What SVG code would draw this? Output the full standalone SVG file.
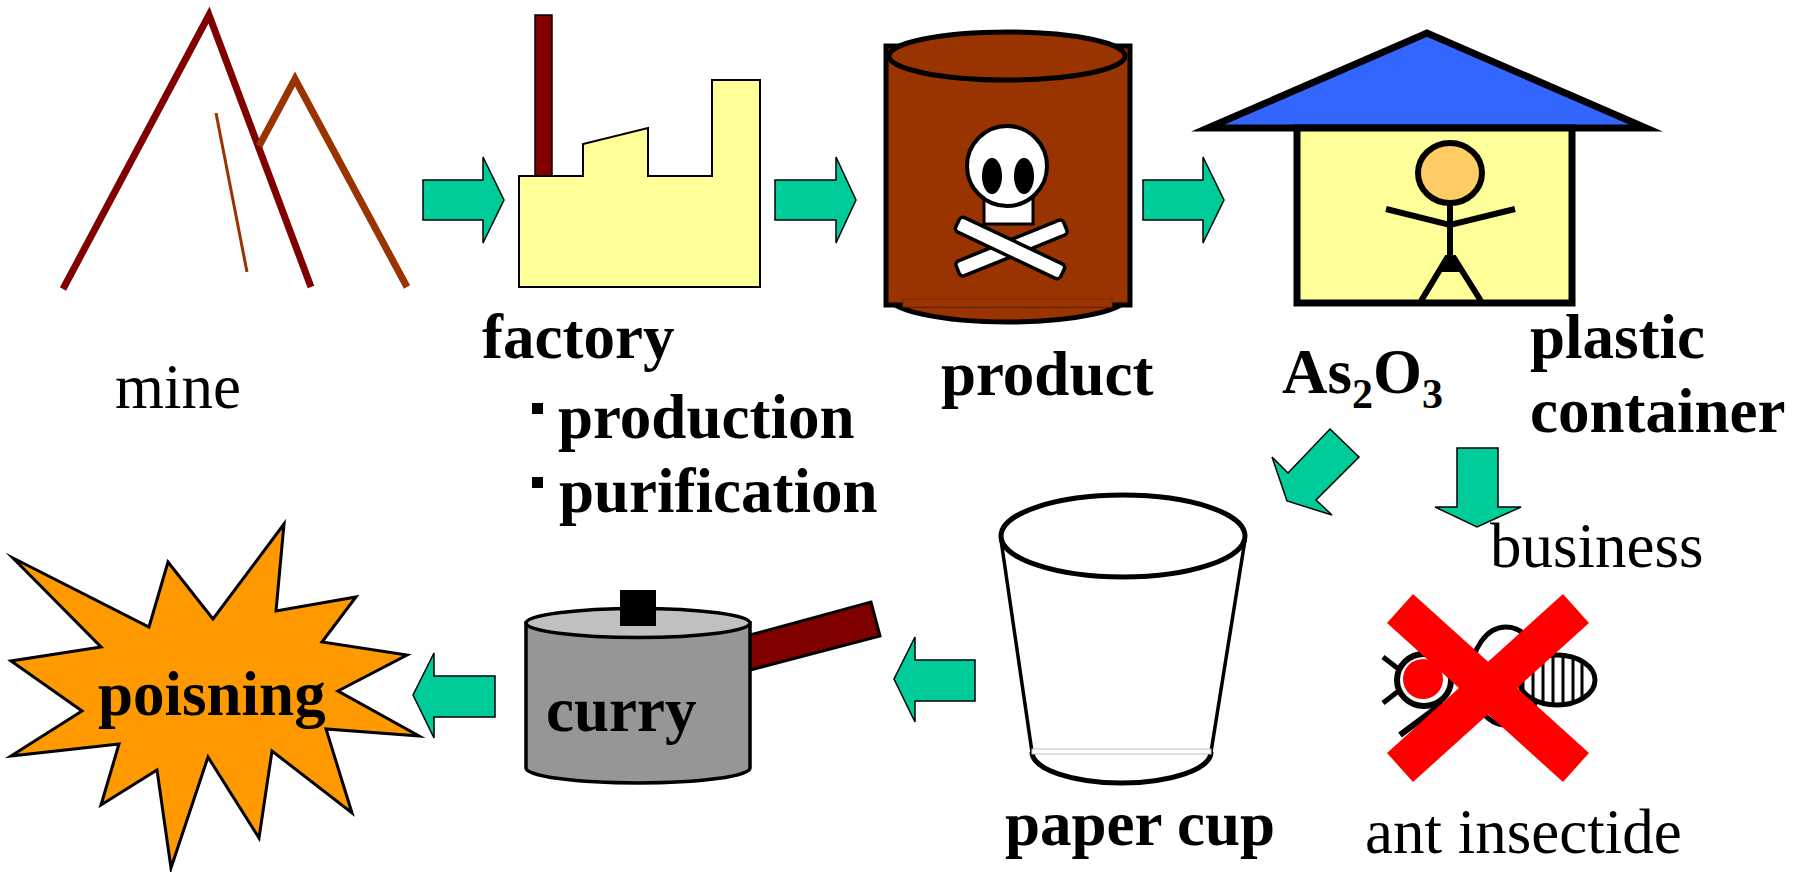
<svg xmlns="http://www.w3.org/2000/svg" width="1797" height="872" viewBox="0 0 1797 872">
  <defs>
    <style>
      .lbl { font-family: "Liberation Serif", "Times New Roman", serif; font-size: 63px; fill: #000; }
      .b { font-weight: bold; }
      .arrow { fill: #00CC99; stroke: #000; stroke-width: 1.5; stroke-linejoin: miter; }
    </style>
    <clipPath id="abdomenClip">
      <ellipse cx="1557" cy="680" rx="36" ry="23"/>
    </clipPath>
  </defs>
  <rect width="1797" height="872" fill="#fff"/>

  <!-- mine -->
  <g id="mine">
    <polyline points="63,289 209,15 311,287" fill="none" stroke="#800000" stroke-width="7"/>
    <polyline points="259,146 295,79 407,287" fill="none" stroke="#993300" stroke-width="7"/>
    <line x1="216" y1="113" x2="247" y2="272" stroke="#993300" stroke-width="3"/>
    <text class="lbl" x="115" y="408">mine</text>
  </g>

  <!-- factory -->
  <g id="factory">
    <rect x="535" y="15" width="17" height="161" fill="#800000" stroke="#000" stroke-width="1.5"/>
    <polygon points="519,176 583,176 583,144 648,128 648,176 712,176 712,80 760,80 760,287 519,287" fill="#FFFF99" stroke="#000" stroke-width="2"/>
    <text class="lbl b" x="482" y="358">factory</text>
    <rect x="532" y="403" width="11" height="11" fill="#000"/>
    <text class="lbl b" x="558" y="438">production</text>
    <rect x="532" y="477" width="11" height="11" fill="#000"/>
    <text class="lbl b" x="559" y="512">purification</text>
  </g>

  <!-- product drum -->
  <g id="product">
    <ellipse cx="1008" cy="296" rx="120" ry="26" fill="#993300" stroke="#000" stroke-width="5"/>
    <rect x="886" y="46" width="244" height="259" fill="#993300" stroke="#000" stroke-width="5"/>
    <rect x="903" y="299" width="209" height="8" fill="#993300" stroke="#7a2800" stroke-width="1"/>
    <ellipse cx="1007" cy="56" rx="118" ry="24" fill="#993300" stroke="#000" stroke-width="5"/>
    <rect x="984" y="196" width="49" height="28" fill="#fff" stroke="#000" stroke-width="3"/>
    <circle cx="1007" cy="166" r="40" fill="#fff" stroke="#000" stroke-width="4"/>
    <ellipse cx="992" cy="176" rx="10" ry="18" fill="#000"/>
    <ellipse cx="1024" cy="176" rx="10" ry="18" fill="#000"/>
    <rect x="-58" y="-8" width="116" height="16" rx="4" fill="#fff" stroke="#000" stroke-width="3.5" transform="translate(1011.5,248) rotate(-22)"/>
    <rect x="-58" y="-8" width="116" height="16" rx="4" fill="#fff" stroke="#000" stroke-width="3.5" transform="translate(1010,248) rotate(25.3)"/>
    <text class="lbl b" x="941" y="395">product</text>
  </g>

  <!-- house with person -->
  <g id="plastic-container">
    <polygon points="1208,128 1427,33 1646,128" fill="#3366FF" stroke="#000" stroke-width="7" stroke-miterlimit="10"/>
    <rect x="1297" y="128" width="275" height="175" fill="#FFFF99" stroke="#000" stroke-width="7"/>
    <line x1="1450" y1="200" x2="1450" y2="260" stroke="#000" stroke-width="6"/>
    <polyline points="1386,209 1450,225 1515,209" fill="none" stroke="#000" stroke-width="6"/>
    <polyline points="1421,301 1447,258 1454,258 1481,301" fill="none" stroke="#000" stroke-width="6"/>
    <polygon points="1445,257 1456,257 1462,272 1439,272" fill="#000"/>
    <ellipse cx="1450" cy="173" rx="32" ry="30" fill="#FFCC66" stroke="#000" stroke-width="6"/>
    <text class="lbl b" x="1282" y="393">As<tspan font-size="42" dy="15">2</tspan><tspan dy="-15">O</tspan><tspan font-size="42" dy="15">3</tspan></text>
    <text class="lbl b" x="1530" y="358">plastic</text>
    <text class="lbl b" x="1530" y="432">container</text>
  </g>

  <!-- paper cup -->
  <g id="paper-cup">
    <line x1="1001" y1="540" x2="1032" y2="752" stroke="#000" stroke-width="3.5"/>
    <line x1="1245" y1="540" x2="1211" y2="752" stroke="#000" stroke-width="3.5"/>
    <path d="M1032,752 A89.5,31 0 0 0 1211,752" fill="none" stroke="#000" stroke-width="5"/>
    <rect x="1032" y="749" width="179" height="5" fill="#fff" stroke="#C0C0C0" stroke-width="1"/>
    <ellipse cx="1123" cy="536" rx="122" ry="41" fill="#fff" stroke="#000" stroke-width="5"/>
    <text class="lbl b" x="1005" y="845">paper cup</text>
  </g>

  <!-- ant insectide -->
  <g id="ant-insectide">
    <line x1="1383" y1="657" x2="1405" y2="674" stroke="#000" stroke-width="5"/>
    <line x1="1383" y1="703" x2="1405" y2="686" stroke="#000" stroke-width="5"/>
    <line x1="1400" y1="735" x2="1443" y2="703" stroke="#000" stroke-width="6"/>
    <ellipse cx="1506" cy="676" rx="35" ry="49" fill="#fff" stroke="#000" stroke-width="5"/>
    <ellipse cx="1557" cy="680" rx="38" ry="25" fill="#fff" stroke="#000" stroke-width="5"/>
    <g clip-path="url(#abdomenClip)" stroke="#000" stroke-width="3">
      <line x1="1523" y1="650" x2="1523" y2="710"/>
      <line x1="1533" y1="650" x2="1533" y2="710"/>
      <line x1="1543" y1="650" x2="1543" y2="710"/>
      <line x1="1553" y1="650" x2="1553" y2="710"/>
      <line x1="1563" y1="650" x2="1563" y2="710"/>
      <line x1="1573" y1="650" x2="1573" y2="710"/>
      <line x1="1582" y1="650" x2="1582" y2="710"/>
    </g>
    <ellipse cx="1424" cy="680" rx="27" ry="26" fill="#fff" stroke="#000" stroke-width="6"/>
    <circle cx="1423" cy="679" r="20" fill="#FF0000"/>
    <polygon points="1413,594 1387,623 1563,782 1589,753" fill="#FF0000"/>
    <polygon points="1563,594 1589,623 1413,782 1387,753" fill="#FF0000"/>
    <text class="lbl" x="1490" y="567">business</text>
    <text class="lbl" x="1365" y="853">ant insectide</text>
  </g>

  <!-- curry pot -->
  <g id="curry">
    <polygon points="750,635 871,602 880,636 750,670" fill="#800000" stroke="#000" stroke-width="3"/>
    <path d="M526,623 L526,768 A112,15 0 0 0 750,768 L750,623 Z" fill="#969696" stroke="#000" stroke-width="3.5"/>
    <ellipse cx="638" cy="623" rx="112" ry="14.5" fill="#C0C0C0" stroke="#000" stroke-width="3.5"/>
    <rect x="620" y="590" width="36" height="36" fill="#000"/>
    <text class="lbl b" x="546" y="731">curry</text>
  </g>

  <!-- poisoning burst -->
  <g id="poisoning">
    <polygon points="13,558 149,627 168,562 213,619 284,524 276,611 356,597 322,642 407,655 338,691 419,736 326,729 352,813 272,751 259,838 208,757 171,868 157,770 101,805 119,744 11,756 82,711 11,661 101,647" fill="#FF9900" stroke="#000" stroke-width="3" stroke-miterlimit="20"/>
    <text class="lbl b" x="98" y="715">poisning</text>
  </g>

  <!-- flow arrows -->
  <g id="connectors">
    <polygon class="arrow" points="423,180 483,180 483,157 504,200 483,243 483,220 423,220"/>
    <polygon class="arrow" points="775,180 836,180 836,157 856,200 836,243 836,220 775,220"/>
    <polygon class="arrow" points="1143,180 1203,180 1203,157 1224,200 1203,243 1203,220 1143,220"/>
    <polygon class="arrow" points="1330,429 1359,457 1316,500 1332,515 1287,501 1272,457 1288,473"/>
    <polygon class="arrow" points="1457,448 1498,448 1498,507 1521,507 1477,527 1435,507 1457,507"/>
    <polygon class="arrow" points="975,660 915,660 915,637 894,679 915,722 915,701 975,701"/>
    <polygon class="arrow" points="495,676 434,676 434,653 413,695 434,738 434,717 495,717"/>
  </g>
</svg>
